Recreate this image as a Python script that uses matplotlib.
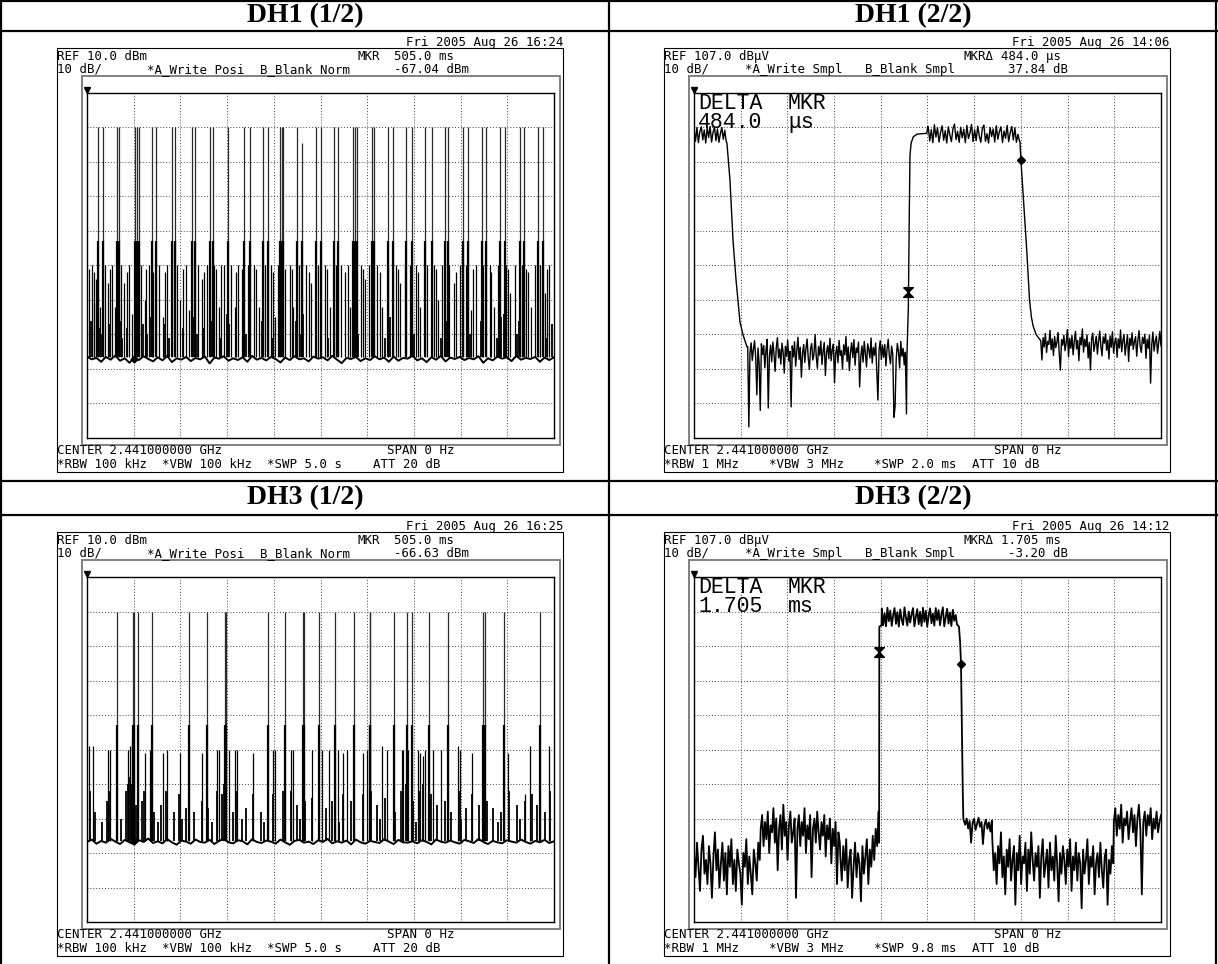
import numpy as np
import matplotlib.pyplot as plt
from matplotlib.patches import Rectangle

W, H = 1218, 964

# ---------------- header / footer texts of the four analyzer screens ----------------
titles = ["DH1 (1/2)", "DH1 (2/2)", "DH3 (1/2)", "DH3 (2/2)"]
dates = ["Fri 2005 Aug 26 16:24", "Fri 2005 Aug 26 14:06",
         "Fri 2005 Aug 26 16:25", "Fri 2005 Aug 26 14:12"]
ref_lines = ["REF 10.0 dBm", "REF 107.0 dBμV", "REF 10.0 dBm", "REF 107.0 dBμV"]
mkr_labels = ["MKR", "MKRΔ", "MKR", "MKRΔ"]
mkr_times = ["505.0 ms", "484.0 μs", "505.0 ms", "1.705 ms"]
mkr_levels = ["-67.04 dBm", "37.84 dB", "-66.63 dBm", "-3.20 dB"]
trace_modes = ["*A_Write Posi", "*A_Write Smpl", "*A_Write Posi", "*A_Write Smpl"]
blank_modes = ["B_Blank Norm", "B_Blank Smpl", "B_Blank Norm", "B_Blank Smpl"]
centers = ["CENTER 2.441000000 GHz"] * 4
spans = ["SPAN 0 Hz"] * 4
rbws = ["*RBW 100 kHz", "*RBW 1 MHz", "*RBW 100 kHz", "*RBW 1 MHz"]
vbws = ["*VBW 100 kHz", "*VBW 3 MHz", "*VBW 100 kHz", "*VBW 3 MHz"]
swps = ["*SWP 5.0 s", "*SWP 2.0 ms", "*SWP 5.0 s", "*SWP 9.8 ms"]
atts = ["ATT 20 dB", "ATT 10 dB", "ATT 20 dB", "ATT 10 dB"]
delta_values = [None, ("484.0", "μs"), None, ("1.705", "ms")]

# ---------------- DH1 (1/2): 5 s sweep, dBm ----------------
dh1a_floor = [
    -66.4, -67.2, -66.8, -67.9, -66.5, -67.3, -66.1, -67.6, -66.9, -68.2,
    -66.7, -67.4, -66.3, -67.1, -67.8, -66.6, -67.5, -66.2, -68.0, -66.9,
    -67.3, -66.5, -67.7, -66.8, -67.2, -66.4, -68.4, -66.7, -67.0, -66.3,
    -67.6, -66.9, -67.4, -66.6, -67.9, -66.2, -67.3, -66.8, -67.5, -66.5,
    -67.1, -68.1, -66.7, -67.4, -66.3, -67.2, -66.9, -67.8, -66.4, -67.0,
    -66.6, -67.5, -66.2, -67.3, -68.3, -66.8, -67.1, -66.5, -67.7, -66.9,
    -67.4, -66.3, -67.2, -66.7, -67.9, -66.4, -67.6, -66.8, -67.0, -66.1,
    -67.5, -66.9, -68.0, -66.6, -67.3, -66.2, -67.8, -66.7, -67.1, -66.5,
    -67.4, -66.8, -67.2, -66.3, -68.2, -66.9, -67.5, -66.4, -67.0, -66.6,
    -67.7, -66.2, -67.3, -66.8, -67.1, -66.5, -67.9, -66.7, -67.4, -66.6]
dh1a_tall = [
    (0.121, 0), (0.168, 0), (0.318, 0), (0.346, 0), (0.514, 0), (0.532, 0), (0.560, 0),
    (0.692, 0), (0.739, 0), (0.906, 0), (0.942, 0), (1.121, 0), (1.156, 0), (1.317, 0),
    (1.345, 0), (1.513, 0), (1.685, 0), (1.745, 0), (1.888, 0), (1.941, 0), (2.066, 0),
    (2.084, 0), (2.102, 0), (2.245, 0), (2.305, -4.5), (2.452, 0), (2.502, 0), (2.645, 0),
    (2.691, 0), (2.852, 0), (2.870, 0), (2.887, 0), (3.048, 0), (3.073, 0), (3.227, 0),
    (3.273, 0), (3.416, 0), (3.476, 0), (3.619, 0), (3.690, 0), (3.833, 0), (3.869, 0),
    (4.029, 0), (4.083, 0), (4.226, 0), (4.272, 0), (4.422, 0), (4.475, 0), (4.636, 0),
    (4.679, 0), (4.832, 0), (4.886, 0)]
dh1a_mid = [
    (0.02, -41), (0.05, -40), (0.08, -51), (0.10, -44), (0.14, -52), (0.19, -40), (0.22, -45),
    (0.27, -40), (0.30, -52), (0.36, -40), (0.40, -45), (0.45, -40), (0.48, -54), (0.58, -40),
    (0.62, -50), (0.66, -40), (0.71, -42), (0.77, -40), (0.81, -55), (0.86, -40), (0.96, -40),
    (1.00, -50), (1.06, -40), (1.09, -53), (1.19, -40), (1.23, -44), (1.28, -40), (1.36, -40),
    (1.41, -52), (1.44, -40), (1.47, -40), (1.54, -40), (1.58, -52), (1.62, -40), (1.66, -41),
    (1.72, -40), (1.79, -40), (1.84, -52), (1.91, -40), (1.97, -40), (2.01, -55), (2.04, -40),
    (2.12, -41), (2.17, -40), (2.21, -52), (2.27, -40), (2.35, -40), (2.40, -45), (2.47, -40),
    (2.55, -40), (2.60, -52), (2.67, -40), (2.72, -40), (2.79, -40), (2.82, -52), (2.93, -40),
    (2.98, -44), (3.02, -40), (3.10, -40), (3.16, -52), (3.22, -40), (3.31, -40), (3.35, -45),
    (3.40, -40), (3.46, -40), (3.52, -40), (3.56, -52), (3.64, -40), (3.72, -40), (3.76, -50),
    (3.80, -40), (3.88, -40), (3.93, -45), (3.99, -40), (4.06, -40), (4.11, -53), (4.16, -40),
    (4.24, -40), (4.31, -40), (4.36, -52), (4.40, -40), (4.49, -40), (4.53, -48), (4.58, -40),
    (4.66, -40), (4.70, -41), (4.75, -52), (4.80, -40), (4.85, -40), (4.90, -48), (4.95, -40),
    (0.07, -42), (0.25, -41), (0.43, -42), (0.63, -41), (0.83, -42), (1.03, -41), (1.25, -42),
    (1.38, -41), (1.60, -42), (1.81, -41), (1.99, -42), (2.19, -41), (2.38, -42), (2.57, -41),
    (2.76, -42), (2.95, -41), (3.14, -42), (3.33, -41), (3.54, -42), (3.74, -41), (3.95, -42),
    (4.13, -41), (4.33, -42), (4.51, -41), (4.72, -42), (4.92, -41)]
dh1a_low = [
    (0.04, -56), (0.11, -54), (0.13, -58), (0.17, -55), (0.24, -57), (0.33, -54), (0.35, -56),
    (0.43, -58), (0.52, -54), (0.55, -53), (0.60, -57), (0.69, -55), (0.74, -54), (0.84, -57),
    (0.91, -54), (0.94, -56), (1.03, -58), (1.12, -54), (1.15, -55), (1.25, -58), (1.32, -54),
    (1.34, -56), (1.50, -54), (1.52, -57), (1.68, -55), (1.75, -54), (1.87, -56), (1.94, -54),
    (2.07, -53), (2.10, -55), (2.24, -56), (2.31, -54), (2.45, -55), (2.50, -54), (2.64, -57),
    (2.69, -54), (2.85, -53), (2.88, -55), (3.05, -54), (3.07, -56), (3.24, -55), (3.28, -54),
    (3.42, -56), (3.48, -54), (3.62, -55), (3.69, -54), (3.84, -56), (3.87, -54), (4.03, -55),
    (4.08, -54), (4.22, -56), (4.27, -54), (4.43, -55), (4.47, -54), (4.63, -56), (4.68, -54),
    (4.83, -55), (4.88, -54), (4.98, -57), (0.15, -60), (0.38, -61), (0.64, -60), (0.88, -61),
    (1.18, -60), (1.43, -61), (1.70, -60), (1.99, -61), (2.29, -60), (2.58, -61), (2.90, -60),
    (3.19, -61), (3.50, -60), (3.79, -61), (4.10, -60), (4.39, -61), (4.60, -60), (4.93, -61)]
dh1a_marker = (0.505, -67.04)

# ---------------- DH3 (1/2): 5 s sweep, dBm ----------------
dh3a_floor = [
    -66.8, -66.1, -67.3, -66.5, -67.0, -65.9, -66.7, -67.4, -66.2, -66.9,
    -67.5, -66.3, -66.8, -65.8, -67.1, -66.6, -67.2, -66.0, -66.9, -67.6,
    -66.4, -66.7, -67.3, -66.1, -66.8, -67.0, -66.2, -67.4, -66.5, -65.9,
    -66.9, -67.2, -66.3, -66.6, -67.5, -66.0, -66.8, -67.1, -66.4, -66.7,
    -67.3, -66.1, -66.9, -67.6, -66.5, -66.2, -67.0, -66.7, -67.4, -66.3,
    -66.8, -65.9, -67.2, -66.6, -67.0, -66.4, -67.5, -66.1, -66.9, -67.3,
    -66.5, -66.8, -67.1, -66.0, -66.7, -67.4, -66.2, -66.9, -67.0, -66.6,
    -67.2, -66.3, -66.8, -67.5, -66.1, -66.7, -67.0, -66.4, -66.9, -67.3,
    -66.2, -66.6, -67.1, -65.9, -66.8, -67.4, -66.5, -66.9, -67.2, -66.3,
    -66.7, -67.0, -66.1, -66.8, -67.3, -66.5, -66.9, -66.2, -67.1, -66.6]
dh3a_tall = [
    (0.318, 0), (0.496, 0), (0.505, 0), (0.550, 0), (0.692, 0), (1.096, 0), (1.281, 0),
    (1.480, 0), (1.490, 0), (1.941, 0), (2.116, 0), (2.310, 0), (2.320, 0), (2.488, 0),
    (2.655, 0), (2.859, 0), (3.025, 0), (3.035, 0), (3.287, 0), (3.423, 0), (3.476, 0),
    (3.665, 0), (3.869, 0), (4.245, 0), (4.258, 0), (4.465, 0), (4.850, 0)]
dh3a_mid = [
    (0.025, -39), (0.061, -39), (0.228, -40), (0.246, -40), (0.443, -40), (0.460, -39),
    (0.478, -37), (0.621, -41), (0.675, -40), (0.810, -41), (0.860, -40), (0.996, -41),
    (1.228, -41), (1.388, -40), (1.417, -40), (1.524, -40), (1.585, -40), (1.602, -40),
    (1.781, -41), (1.995, -40), (2.013, -40), (2.181, -40), (2.209, -40), (2.405, -40),
    (2.513, -40), (2.595, -40), (2.691, -40), (2.744, -41), (2.780, -40), (2.951, -41),
    (2.994, -40), (3.155, -39), (3.208, -40), (3.369, -40), (3.387, -40), (3.440, -40),
    (3.547, -40), (3.565, -41), (3.594, -42), (3.619, -40), (3.708, -40), (3.787, -40),
    (3.976, -39), (3.994, -40), (4.118, -41), (4.511, -41), (4.689, -53), (4.743, -39),
    (4.950, -39)]
dh3a_low = [
    (0.030, -52), (0.090, -58), (0.210, -55), (0.240, -52), (0.420, -52), (0.440, -50),
    (0.455, -48), (0.470, -52), (0.485, -50), (0.520, -56), (0.590, -55), (0.610, -52),
    (0.720, -58), (0.790, -56), (0.850, -52), (0.930, -58), (0.990, -53), (1.060, -57),
    (1.150, -58), (1.230, -55), (1.300, -57), (1.390, -52), (1.450, -53), (1.470, -50),
    (1.560, -58), (1.590, -52), (1.700, -57), (1.780, -53), (1.860, -58), (1.990, -53),
    (2.100, -52), (2.180, -52), (2.250, -56), (2.330, -55), (2.410, -54), (2.480, -52),
    (2.560, -57), (2.620, -55), (2.740, -53), (2.830, -55), (2.950, -53), (3.040, -52),
    (3.100, -56), (3.190, -54), (3.300, -58), (3.360, -52), (3.420, -50), (3.490, -55),
    (3.560, -52), (3.600, -50), (3.680, -53), (3.750, -56), (3.830, -55), (3.900, -58),
    (3.980, -52), (4.060, -57), (4.120, -53), (4.200, -56), (4.280, -55), (4.350, -57),
    (4.430, -58), (4.520, -52), (4.600, -56), (4.690, -55), (4.760, -53), (4.820, -56),
    (4.900, -58), (4.960, -52), (0.160, -61), (0.360, -60), (0.760, -61), (1.020, -60),
    (1.340, -61), (1.660, -60), (1.900, -61), (2.280, -60), (2.700, -61), (3.140, -60),
    (3.520, -61), (4.000, -60), (4.400, -61), (4.640, -60)]
dh3a_marker = (0.505, -66.63)

# ---------------- DH1 (2/2): 2 ms sweep (us), dBuV ----------------
dh1b_hi1 = [96.5, 93.0, 97.0, 92.6, 95.8, 97.2, 93.4, 96.3, 92.5, 97.0, 94.1, 97.3,
            92.8, 95.6, 97.1, 93.2, 96.6, 92.7, 95.2, 97.0, 93.6, 96.2, 92.9]
dh1b_fall1_t = [141, 154, 167, 180, 188, 197, 210, 227]
dh1b_fall1_v = [92.5, 81.8, 64.4, 52.8, 47.0, 40.6, 36.9, 33.4]
dh1b_floor1 = [
    33.5, 10.2, 31.8, 34.6, 29.5, 32.7, 35.2, 30.4, 19.5, 33.1,
    28.6, 15.0, 34.3, 31.2, 33.8, 27.4, 32.5, 35.6, 15.7, 30.8,
    33.9, 29.1, 34.8, 31.5, 26.3, 33.2, 36.1, 30.2, 32.8, 28.4,
    34.5, 31.9, 25.8, 33.6, 30.7, 35.4, 29.3, 32.1, 16.0, 33.7,
    30.5, 34.9, 27.8, 32.4, 36.2, 29.8, 33.3, 24.6, 31.6, 34.1,
    28.9, 33.0, 35.7, 30.1, 26.9, 32.9, 34.4, 29.6, 31.3, 37.0,
    30.6, 27.2, 33.5, 31.0, 35.1, 28.3, 32.2, 34.7, 25.1, 31.7,
    33.8, 30.0, 35.9, 29.4, 32.6, 34.2, 23.0, 31.4, 33.6, 28.8,
    35.3, 30.9, 32.3, 27.0, 34.0, 31.1, 36.4, 29.2, 33.4, 26.5,
    32.0, 34.6, 30.3, 35.5, 28.1, 33.1, 31.8, 34.8, 21.8, 30.6,
    33.7, 29.0, 35.0, 31.5, 27.6, 34.3, 32.7, 30.2, 36.0, 28.7,
    33.2, 31.0, 34.5, 26.2, 18.0, 32.5, 35.2, 29.7, 33.9, 30.4,
    34.1, 27.9, 32.8, 35.6, 30.8, 28.5, 33.6, 31.2, 13.0, 16.0,
    29.9, 34.4, 32.0, 27.3, 35.0, 30.7, 33.0, 28.2, 31.9, 14.0]
dh1b_rise_t = [912, 918, 922, 925, 930, 939, 956, 997, 1001]
dh1b_rise_v = [31.0, 45.0, 72.0, 89.0, 92.5, 94.3, 95.1, 95.3, 97.2]
dh1b_hi2 = [
    97.3, 93.1, 96.4, 92.6, 97.8, 94.2, 96.9, 92.8, 95.7, 97.5, 93.3, 96.1, 92.5, 97.2, 94.8,
    92.9, 96.7, 98.0, 93.5, 95.9, 92.7, 97.1, 94.0, 96.5, 92.6, 97.6, 93.8, 95.4, 97.9, 92.9,
    96.3, 93.2, 97.4, 94.6, 92.7, 96.8, 97.7, 93.0, 95.2, 92.5, 97.0, 94.4, 96.6, 92.8, 97.5,
    93.6, 95.8, 97.2, 92.6, 96.0, 93.9, 97.6, 92.9, 95.5, 97.3, 93.4, 96.9, 92.7, 95.0, 93.0]
dh1b_fall2_t = [1396, 1400, 1410, 1425, 1437, 1445, 1453, 1465, 1482]
dh1b_fall2_v = [93.0, 87.6, 77.0, 61.5, 47.0, 42.0, 39.3, 37.0, 35.5]
dh1b_floor2 = [
    35.2, 29.6, 36.1, 33.4, 37.3, 31.8, 35.0, 34.1, 38.2, 32.6,
    35.7, 30.9, 36.4, 33.2, 34.8, 37.6, 31.4, 26.7, 35.5, 33.9,
    36.8, 32.3, 34.6, 38.4, 30.5, 35.9, 33.0, 36.7, 31.1, 34.9,
    37.9, 32.8, 35.3, 29.4, 36.2, 34.0, 38.6, 31.9, 35.6, 33.5,
    36.9, 30.2, 34.7, 26.7, 35.8, 37.4, 32.1, 34.3, 36.5, 31.3,
    35.1, 38.0, 33.6, 30.8, 36.3, 34.5, 37.2, 32.4, 35.4, 29.9,
    36.6, 33.3, 37.8, 31.6, 34.8, 36.0, 30.4, 35.7, 33.1, 38.3,
    32.0, 35.2, 37.0, 31.0, 34.2, 36.9, 29.2, 35.9, 33.8, 37.5,
    32.7, 34.9, 36.4, 30.7, 35.3, 38.1, 33.5, 31.8, 36.2, 34.4,
    37.1, 30.1, 35.6, 33.0, 36.8, 22.9, 34.1, 37.7, 32.2, 35.0,
    36.5, 31.5, 34.6, 37.9, 33.7]
dh1b_ref_marker = (918, 49.4)
dh1b_act_marker = (1400, 87.6)

# ---------------- DH3 (2/2): 9.8 ms sweep (ms), dBuV ----------------
dh3b_floor1 = [27, 20, 30, 23, 16, 28, 32, 21, 25, 18, 29, 24, 14, 26, 33, 22, 28, 17, 24, 30,
               19, 27, 15, 29, 23, 31, 18, 25, 16, 28, 24, 21, 12, 27, 23, 31, 18, 26, 21, 15,
               28, 24, 19, 30, 25]
dh3b_floor2 = [34, 38, 29, 36, 31, 39, 27, 35, 33, 40, 30, 37, 22, 34, 38, 28, 41, 32, 36, 25,
               35, 39, 30, 33, 37, 14, 34, 38, 29, 36, 32, 40, 27, 35, 31, 38, 20, 34, 37, 30,
               39, 33, 28, 36, 32, 38, 26, 35, 31, 37, 24, 34, 29, 36, 18, 33, 30]
dh3b_floor3 = [26, 19, 29, 22, 31, 17, 25, 28, 14, 23, 30, 20, 27, 24, 13, 29, 21, 26, 31, 18,
               28, 23, 32, 25, 34, 29, 39]
dh3b_rise_t = [3.885, 3.889, 3.935]
dh3b_rise_v = [30.0, 92.6, 93.0]
dh3b_hi = [
    97.8, 93.0, 96.5, 92.7, 98.1, 94.2, 97.3, 92.8, 95.9, 98.0, 93.4, 96.8, 92.6, 97.6, 94.7,
    93.1, 98.2, 95.3, 92.9, 97.0, 93.8, 96.2, 98.0, 92.7, 95.5, 97.7, 93.3, 96.9, 92.8, 98.1,
    94.0, 97.2, 92.6, 95.8, 97.9, 93.6, 96.4, 92.9, 98.0, 94.5, 97.4, 93.0, 96.1, 98.2, 92.7,
    95.2, 97.8, 93.5, 96.7, 92.8, 97.5, 94.3, 96.0, 93.2, 92.8]
dh3b_fall_t = [5.56, 5.585, 5.603, 5.625, 5.64, 5.652]
dh3b_fall_v = [92.6, 88.0, 81.9, 60.0, 45.0, 37.0]
dh3b_floor4 = [36.5, 35.2, 37.0, 34.1, 36.3, 30.0, 35.8, 36.9, 33.7, 35.5,
               37.2, 34.6, 36.0, 29.6, 35.1, 36.7, 34.0, 35.9, 33.2, 36.4]
dh3b_floor5 = [31, 22, 27, 18, 29, 24, 33, 20, 26, 15, 28, 23, 31, 19, 25, 29, 12, 27, 22, 32,
               18, 26, 24, 30, 16, 28, 21, 33, 25, 19, 27, 23, 29, 14, 26, 31, 20, 24, 28, 17,
               30, 22, 26, 19, 32, 24, 13, 27, 21, 29, 25, 18, 28, 23, 31, 16, 26, 22, 30, 19,
               27, 24, 11, 28, 21, 25, 31, 18, 26, 23, 29, 15, 24, 27, 20, 30, 22, 17, 26, 28,
               12, 25, 21, 29, 24]
dh3b_floor6 = [36, 40, 32, 38, 34, 41, 30, 37, 35, 39, 31, 36, 40, 33, 38, 29, 37, 41, 34, 15,
               36, 39, 32, 38, 35, 40, 31, 37, 34, 39, 33, 36, 38]
dh3b_ref_marker = (3.889, 85.3)
dh3b_act_marker = (5.603, 81.9)

FLOOR_DBM = -66.5
SHOULDER_DBM = -33

# ---------------- layout (pixels) ----------------
GW, GH = 467, 345
origins = [(0, 0), (607, 0), (0, 484), (607, 484)]

fig = plt.figure(figsize=(W / 100, H / 100), dpi=100)
fig.patch.set_facecolor("white")


def grid_axes(ox, oy, xmax, ylo, yhi):
    gx, gy = 87 + ox, 93 + oy
    ax = fig.add_axes([gx / W, 1 - (gy + GH) / H, GW / W, GH / H])
    ax.set_xlim(0, xmax)
    ax.set_ylim(ylo, yhi)
    ax.set_xticks(np.linspace(0, xmax, 11))
    ax.set_yticks(np.linspace(ylo, yhi, 11))
    ax.tick_params(length=0, labelbottom=False, labelleft=False)
    ax.grid(True, color="#444444", lw=0.7, ls=(0, (1, 2)))
    ax.set_axisbelow(True)
    for s in ax.spines.values():
        s.set_linewidth(1.0)
        s.set_color("black")
    ax.patch.set_alpha(0)
    return ax


def sweep_panel(ax, floor, tall, mid, low, marker):
    ax.plot(np.linspace(0, 5, len(floor)), floor, color="black", lw=1.4)
    tt, tv = zip(*tall)
    ax.vlines(tt, FLOOR_DBM, tv, color="#2a2a2a", lw=0.9)
    ax.vlines(tt, FLOOR_DBM, SHOULDER_DBM, color="black", lw=1.6)
    mt, mv = zip(*mid)
    ax.vlines(mt, FLOOR_DBM, mv, color="black", lw=0.9)
    lt, lv = zip(*low)
    ax.vlines(lt, FLOOR_DBM, lv, color="black", lw=1.3)
    ax.plot(*marker, marker="D", ms=3.5, color="black")


def seg(t0, t1, vals):
    return np.linspace(t0, t1, len(vals)), np.asarray(vals, dtype=float)


hourglass = [(-1, 1), (1, 1), (-1, -1), (1, -1), (-1, 1)]

# DH1 (1/2)
axA = grid_axes(*origins[0], 5, -90, 10)
sweep_panel(axA, dh1a_floor, dh1a_tall, dh1a_mid, dh1a_low, dh1a_marker)

# DH3 (1/2)
axC = grid_axes(*origins[2], 5, -90, 10)
sweep_panel(axC, dh3a_floor, dh3a_tall, dh3a_mid, dh3a_low, dh3a_marker)

# DH1 (2/2)
axB = grid_axes(*origins[1], 2000, 7, 107)
parts = [seg(0, 138, dh1b_hi1), (np.array(dh1b_fall1_t), np.array(dh1b_fall1_v)),
         seg(230, 910, dh1b_floor1), (np.array(dh1b_rise_t), np.array(dh1b_rise_v)),
         seg(1003, 1394, dh1b_hi2), (np.array(dh1b_fall2_t), np.array(dh1b_fall2_v)),
         seg(1485, 2000, dh1b_floor2)]
xb = np.concatenate([p[0] for p in parts])
yb = np.concatenate([p[1] for p in parts])
axB.plot(xb, yb, color="black", lw=1.0)
axB.plot(*dh1b_ref_marker, marker=hourglass, ms=7, color="black")
axB.plot(*dh1b_act_marker, marker="D", ms=4.5, color="black")

# DH3 (2/2)
axD = grid_axes(*origins[3], 9.8, 7, 107)
parts = [seg(0, 1.38, dh3b_floor1), seg(1.40, 3.06, dh3b_floor2), seg(3.07, 3.875, dh3b_floor3),
         (np.array(dh3b_rise_t), np.array(dh3b_rise_v)), seg(3.94, 5.55, dh3b_hi),
         (np.array(dh3b_fall_t), np.array(dh3b_fall_v)), seg(5.66, 6.25, dh3b_floor4),
         seg(6.26, 8.80, dh3b_floor5), seg(8.81, 9.8, dh3b_floor6)]
xd = np.concatenate([p[0] for p in parts])
yd = np.concatenate([p[1] for p in parts])
axD.plot(xd, yd, color="black", lw=1.3)
axD.plot(*dh3b_ref_marker, marker=hourglass, ms=7, color="black")
axD.plot(*dh3b_act_marker, marker="D", ms=4.5, color="black")

# ---------------- pixel overlay: table, frames, texts ----------------
px = fig.add_axes([0, 0, 1, 1])
px.set_xlim(0, W)
px.set_ylim(H, 0)
px.axis("off")

for y in [1, 31, 481, 515]:
    px.plot([0, W], [y, y], color="black", lw=1.6, solid_capstyle="butt")
for x in [1, 609, 1216]:
    px.plot([x, x], [0, H], color="black", lw=1.6, solid_capstyle="butt")

title_pos = [(305, 16), (913, 16), (305, 498), (913, 498)]
mono = dict(family="DejaVu Sans Mono", size=8.9, color="black", va="baseline")
big = dict(family="Liberation Mono", size=15.5, color="black", va="baseline")

for i, (ox, oy) in enumerate(origins):
    px.text(*title_pos[i], titles[i], ha="center", va="center",
            family="Liberation Serif", weight="bold", size=20)
    bx = 57 + ox
    # outer box and screen frame
    px.add_patch(Rectangle((bx, 48 + oy), 506, 424, fill=False, lw=0.8, ec="black"))
    px.add_patch(Rectangle((82 + ox, 76 + oy), 478, 369, fill=False, lw=1.4, ec="#808080"))
    px.plot(87 + ox, 90 + oy, marker="v", ms=4.5, color="black")
    right = i % 2 == 1
    px.text(563 + ox, 46 + oy, dates[i], ha="right", **mono)
    px.text(bx, 60 + oy, ref_lines[i], **mono)
    px.text(bx + 300, 60 + oy, mkr_labels[i], **mono)
    px.text(bx + 337, 60 + oy, mkr_times[i], **mono)
    px.text(bx, 73 + oy, "10 dB/", **mono)
    px.text(bx + (81 if right else 90), 73 + oy, trace_modes[i], **mono)
    px.text(bx + (201 if right else 203), 73 + oy, blank_modes[i], **mono)
    px.text(bx + (344 if right else 337), 73 + oy, mkr_levels[i], **mono)
    px.text(bx, 454 + oy, centers[i], **mono)
    px.text(bx + 330, 454 + oy, spans[i], **mono)
    px.text(bx, 468 + oy, rbws[i], **mono)
    px.text(bx + 105, 468 + oy, vbws[i], **mono)
    px.text(bx + 210, 468 + oy, swps[i], **mono)
    px.text(bx + (308 if right else 316), 468 + oy, atts[i], **mono)
    if delta_values[i] is not None:
        px.text(91 + ox, 109 + oy, "DELTA", **big)
        px.text(181 + ox, 109 + oy, "MKR", **big)
        px.text(91 + ox, 128 + oy, delta_values[i][0], **big)
        px.text(181 + ox, 128 + oy, delta_values[i][1], **big)

fig.savefig("out.png", dpi=100, facecolor="white")
